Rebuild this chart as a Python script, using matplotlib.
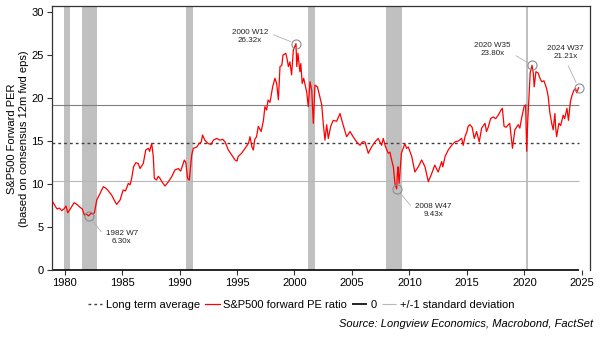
import matplotlib
matplotlib.use("Agg")
import matplotlib.pyplot as plt

plt.rcParams['font.family'] = ['Liberation Sans', 'DejaVu Sans']

# S&P500 forward PE ratio (weekly series, thinned)
years = [
    1979.0, 1979.2, 1979.35, 1979.55, 1979.76, 1979.95, 1980.13, 1980.28, 1980.5, 1980.83,
    1981.1, 1981.35, 1981.55, 1981.72, 1981.9, 1982.1, 1982.3, 1982.45, 1982.6, 1982.8,
    1983.05, 1983.37, 1983.6, 1983.8, 1984.1, 1984.39, 1984.54, 1984.7, 1984.83, 1985.1,
    1985.3, 1985.55, 1985.7, 1985.84, 1986.0, 1986.2, 1986.4, 1986.57, 1986.85, 1987.06,
    1987.29, 1987.4, 1987.58, 1987.72, 1987.81, 1988.0, 1988.15, 1988.3, 1988.5, 1988.74,
    1989.0, 1989.32, 1989.6, 1989.9, 1990.1, 1990.42, 1990.55, 1990.7, 1990.85, 1991.06,
    1991.2, 1991.5, 1991.72, 1991.9, 1992.0, 1992.2, 1992.5, 1992.75, 1992.94, 1993.23,
    1993.52, 1993.75, 1993.96, 1994.25, 1994.54, 1994.83, 1995.0, 1995.1, 1995.4, 1995.7,
    1996.0, 1996.13, 1996.3, 1996.42, 1996.55, 1996.7, 1996.85, 1997.1, 1997.3, 1997.43,
    1997.58, 1997.7, 1997.87, 1997.98, 1998.1, 1998.3, 1998.45, 1998.6, 1998.74, 1998.9,
    1999.0, 1999.24, 1999.35, 1999.47, 1999.6, 1999.75, 1999.9, 2000.13, 2000.2, 2000.3,
    2000.47, 2000.55, 2000.67, 2000.8, 2001.06, 2001.2, 2001.35, 2001.5, 2001.64, 2001.78,
    2002.0, 2002.2, 2002.37, 2002.5, 2002.65, 2002.8, 2002.94, 2003.15, 2003.37, 2003.67,
    2003.96, 2004.1, 2004.4, 2004.54, 2004.83, 2005.1, 2005.4, 2005.7, 2005.9, 2006.13,
    2006.42, 2006.7, 2007.0, 2007.28, 2007.43, 2007.58, 2007.72, 2007.9, 2008.16, 2008.3,
    2008.45, 2008.6, 2008.74, 2008.89, 2008.95, 2009.0, 2009.1, 2009.3, 2009.6, 2009.75,
    2009.9, 2010.2, 2010.47, 2010.77, 2011.06, 2011.35, 2011.64, 2011.93, 2012.2, 2012.5,
    2012.8, 2012.9, 2013.1, 2013.37, 2013.67, 2013.96, 2014.25, 2014.54, 2014.68, 2014.83,
    2015.0, 2015.1, 2015.26, 2015.45, 2015.64, 2015.84, 2016.07, 2016.28, 2016.57, 2016.7,
    2016.85, 2017.07, 2017.29, 2017.5, 2017.72, 2017.96, 2018.08, 2018.23, 2018.4, 2018.72,
    2018.96, 2019.17, 2019.46, 2019.6, 2019.75, 2019.97, 2020.1, 2020.2, 2020.28, 2020.4,
    2020.5, 2020.66, 2020.77, 2020.85, 2021.0, 2021.2, 2021.35, 2021.5, 2021.7, 2021.93,
    2022.07, 2022.2, 2022.37, 2022.5, 2022.65, 2022.72, 2022.8, 2023.0, 2023.15, 2023.37,
    2023.5, 2023.7, 2023.83, 2024.0, 2024.15, 2024.3, 2024.45, 2024.55, 2024.71,
]
pe = [
    7.87, 7.4, 7.1, 7.2, 6.9, 7.1, 7.44, 6.66, 7.1, 7.83,
    7.6, 7.29, 7.1, 6.4, 6.5, 6.30, 6.6, 6.5, 6.66, 8.14,
    8.8, 9.69, 9.5, 9.22, 8.7, 7.95, 7.63, 7.9, 8.14, 9.3,
    9.2, 10.08, 9.9, 10.66, 12.0, 12.48, 12.4, 11.8, 12.4, 13.95,
    14.15, 13.8, 14.73, 13.2, 10.66, 10.47, 10.9, 10.66, 10.2, 9.77,
    10.2, 10.85, 11.63, 11.8, 11.5, 12.79, 12.5, 10.66, 10.45, 13.37,
    14.15, 14.3, 14.73, 14.9, 15.7, 15.1, 14.7, 14.6, 15.1, 15.3,
    15.1, 15.2, 14.9, 13.95, 13.37, 12.79, 12.67, 13.2, 13.57, 14.15,
    14.73, 15.5, 14.3, 13.95, 15.2, 15.5, 16.7, 16.1, 17.4, 19.0,
    18.6, 19.77, 19.5, 20.35, 21.3, 22.3, 21.7, 19.8, 23.65, 23.8,
    25.0, 25.2, 24.6, 23.65, 24.2, 22.7, 25.6, 26.32, 23.65, 25.2,
    23.06, 24.0, 21.7, 22.3, 20.7, 19.0, 21.9, 20.9, 17.06, 21.5,
    21.3, 20.15, 19.2, 17.06, 15.1, 16.9, 15.3, 16.7, 17.4, 17.3,
    18.2, 17.5, 16.1, 15.5, 16.1, 15.5, 14.9, 14.5, 14.9, 14.9,
    13.57, 14.3, 14.9, 15.3, 14.9, 14.5, 15.3, 14.4, 13.57, 13.7,
    12.8, 12.0, 10.0, 9.43, 11.2, 12.0, 10.08, 13.57, 14.7, 14.15,
    14.3, 13.2, 11.4, 12.0, 12.8, 12.0, 10.27, 11.2, 12.2, 11.4,
    12.6, 12.0, 13.2, 13.95, 14.5, 14.9, 15.0, 15.3, 14.5, 15.5,
    16.1, 16.7, 16.9, 16.6, 15.3, 16.1, 14.9, 16.5, 17.06, 16.1,
    16.6, 17.64, 17.8, 17.6, 18.0, 18.6, 18.8, 16.7, 16.6, 17.06,
    14.15, 16.3, 16.9, 16.5, 17.64, 19.0, 19.2, 13.8, 17.06, 20.15,
    22.9, 23.80, 22.9, 21.3, 23.06, 22.9, 22.3, 21.9, 22.0, 21.1,
    20.15, 18.4, 17.06, 16.3, 18.2, 16.5, 15.5, 17.06, 16.8, 18.0,
    17.6, 18.8, 17.4, 19.6, 20.35, 20.9, 21.1, 20.6, 21.21,
]

long_term_avg = 14.75
sd_upper = 19.15
sd_lower = 10.35

# US recessions (start, end)
recessions = [(1979.95, 1980.45), (1981.5, 1982.82), (1990.58, 1991.2),
              (2001.15, 2001.82), (2007.95, 2009.35), (2020.12, 2020.28)]

# labelled extremes: (year, value, label, text position)
callouts = [
    (1982.1, 6.30, "1982 W7\n6.30x", (1984.97, 3.78)),
    (2000.13, 26.32, "2000 W12\n26.32x", (1996.13, 27.15)),
    (2008.89, 9.43, "2008 W47\n9.43x", (2012.07, 6.88)),
    (2020.66, 23.80, "2020 W35\n23.80x", (2017.23, 25.64)),
    (2024.71, 21.21, "2024 W37\n21.21x", (2023.58, 25.26)),
]
callout_relpos = [(0, 0.5), (1, 0.75), (0, 0.5), (1, 0.3), (0.5, 0)]

fig = plt.figure(figsize=(6.02, 3.38), dpi=100)
ax = fig.add_axes([0.0864, 0.2012, 0.8936, 0.781])

for start, end in recessions:
    ax.axvspan(start, end, color='#c0c0c0', lw=0, zorder=0)

x0, x1 = 1978.91, 2025.70
xend = years[-1]
ax.hlines(long_term_avg, x0, xend, colors='#404040', linestyles=(0, (2, 2.2)), lw=1,
          zorder=2, label='Long term average')
ax.plot(years, pe, color='#ff0000', lw=0.9, zorder=3, label='S&P500 forward PE ratio')
ax.hlines(0, x0, xend, colors='black', lw=1.2, zorder=2, clip_on=False, label='0')
ax.hlines(sd_upper, x0, xend, colors='#808080', lw=0.8, zorder=2)
ax.hlines(sd_lower, x0, xend, colors='#b8b8b8', lw=0.8, zorder=2,
          label='+/-1 standard deviation')

for (yr, val, txt, pos), rp in zip(callouts, callout_relpos):
    ax.plot(yr, val, 'o', ms=6.5, mfc='none', mec='#8c8c8c', mew=0.8, zorder=4)
    ax.annotate(txt, xy=(yr, val), xytext=pos, ha='center', va='center', fontsize=5.8,
                linespacing=1.25, color='#222222',
                arrowprops=dict(arrowstyle='-', color='#b0b0b0', lw=0.6,
                                shrinkA=2, shrinkB=4, relpos=rp))

ax.set_xlim(x0, x1)
ax.set_ylim(0, 30.7)
ax.set_xticks(range(1980, 2026, 5))
ax.set_yticks(range(0, 31, 5))
ax.tick_params(axis='both', labelsize=8, length=3.5, width=0.8, color='#333333', pad=2.5)

for side in ['left', 'right', 'top']:
    ax.spines[side].set_color('#333333')
    ax.spines[side].set_linewidth(0.9)
ax.spines['bottom'].set_visible(False)

fig.text(18 / 602, 0.59, 'S&P500 Forward PER\n(based on consensus 12m fwd eps)',
         rotation=90, ha='center', va='center', fontsize=8, linespacing=1.2)

fig.legend(loc='center', bbox_to_anchor=(0.5, 0.097), ncol=4, frameon=False, fontsize=8,
           handlelength=1.3, handletextpad=0.3, columnspacing=0.5)
fig.text(0.985, 0.042, 'Source: Longview Economics, Macrobond, FactSet', ha='right',
         va='center', fontsize=8, style='italic')

fig.savefig('out.png', dpi=100)
